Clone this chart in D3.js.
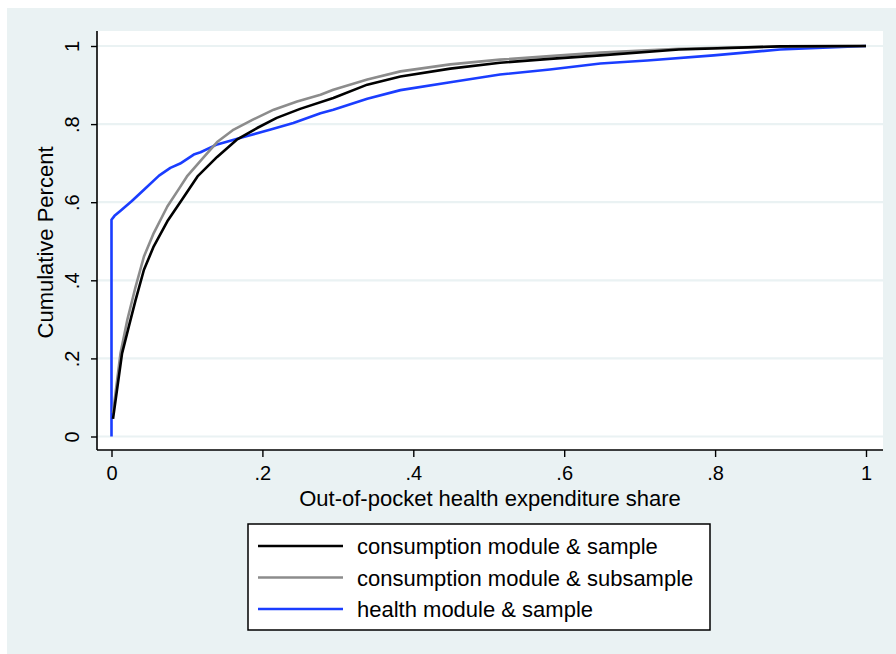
<!DOCTYPE html>
<html>
<head>
<meta charset="utf-8">
<script src="https://cdn.jsdelivr.net/npm/d3@7"></script>
<style>
  html, body { margin: 0; padding: 0; background: #ffffff; }
  svg { display: block; font-family: "Liberation Sans", Arial, Helvetica, sans-serif; }
</style>
</head>
<body>
<svg id="chart" width="896" height="654"></svg>
<script>
// Empirical cumulative distributions of the out-of-pocket health expenditure share
const consumptionSampleX = [0.002, 0.014, 0.023, 0.032, 0.043, 0.056, 0.074, 0.094, 0.114, 0.140, 0.166, 0.193, 0.219, 0.250, 0.294, 0.339, 0.383, 0.449, 0.515, 0.581, 0.648, 0.752, 0.886, 1.0];
const consumptionSampleY = [0.045, 0.213, 0.282, 0.35, 0.427, 0.487, 0.551, 0.608, 0.666, 0.716, 0.760, 0.790, 0.816, 0.839, 0.867, 0.901, 0.922, 0.942, 0.957, 0.967, 0.976, 0.991, 0.999, 1.0];

const consumptionSubsampleX = [0.002, 0.012, 0.021, 0.032, 0.043, 0.056, 0.074, 0.090, 0.100, 0.122, 0.140, 0.162, 0.188, 0.215, 0.246, 0.277, 0.294, 0.339, 0.383, 0.449, 0.515, 0.581, 0.648, 0.752, 0.886, 1.0];
const consumptionSubsampleY = [0.06, 0.214, 0.299, 0.384, 0.461, 0.521, 0.589, 0.636, 0.666, 0.715, 0.754, 0.786, 0.812, 0.837, 0.858, 0.875, 0.888, 0.914, 0.935, 0.953, 0.965, 0.974, 0.983, 0.993, 0.999, 1.0];

const healthSampleX = [0, 0, 0.004, 0.012, 0.027, 0.043, 0.063, 0.078, 0.091, 0.109, 0.118, 0.140, 0.175, 0.211, 0.241, 0.277, 0.294, 0.339, 0.383, 0.449, 0.515, 0.581, 0.648, 0.710, 0.798, 0.886, 1.0];
const healthSampleY = [0, 0.555, 0.565, 0.578, 0.603, 0.632, 0.668, 0.688, 0.699, 0.722, 0.728, 0.748, 0.767, 0.786, 0.803, 0.828, 0.837, 0.865, 0.887, 0.907, 0.927, 0.940, 0.955, 0.963, 0.976, 0.991, 1.0];

const seriesNames = ["consumption module & sample", "consumption module & subsample", "health module & sample"];
const seriesColors = ["#000000", "#8c8c8c", "#1a3dff"];

const xTicks = [0, 0.2, 0.4, 0.6, 0.8, 1];
const yTicks = [0, 0.2, 0.4, 0.6, 0.8, 1];
const xTitle = "Out-of-pocket health expenditure share";
const yTitle = "Cumulative Percent";

const series = [
  { name: seriesNames[0], color: seriesColors[0], points: consumptionSampleX.map((x, i) => [x, consumptionSampleY[i]]) },
  { name: seriesNames[1], color: seriesColors[1], points: consumptionSubsampleX.map((x, i) => [x, consumptionSubsampleY[i]]) },
  { name: seriesNames[2], color: seriesColors[2], points: healthSampleX.map((x, i) => [x, healthSampleY[i]]) }
];

const svg = d3.select("#chart");
const W = 896, H = 654;
const bg = "#eaf2f3";

// graph region background
svg.append("rect").attr("x", 7).attr("y", 8).attr("width", W - 7).attr("height", H - 8).attr("fill", bg);

// plot region
const plot = { left: 97, right: 883, top: 31, bottom: 450 };
svg.append("rect")
  .attr("x", plot.left).attr("y", plot.top)
  .attr("width", plot.right - plot.left).attr("height", plot.bottom - plot.top)
  .attr("fill", "#ffffff");

const x = d3.scaleLinear().domain([0, 1]).range([111.5, 866]);
const y = d3.scaleLinear().domain([0, 1]).range([436.5, 46]);

const fmt = d => d === 0 ? "0" : d === 1 ? "1" : String(d).replace(/^0/, "");

// horizontal grid lines
svg.append("g").selectAll("line").data(yTicks).join("line")
  .attr("x1", plot.left).attr("x2", plot.right)
  .attr("y1", d => y(d)).attr("y2", d => y(d))
  .attr("stroke", bg).attr("stroke-width", 2.2);

// curves
const line = d3.line().x(d => x(d[0])).y(d => y(d[1]));
const order = [2, 1, 0];
svg.append("g").selectAll("path").data(order.map(i => series[i])).join("path")
  .attr("d", d => line(d.points))
  .attr("fill", "none")
  .attr("stroke", d => d.color)
  .attr("stroke-width", 2.6)
  .attr("stroke-linejoin", "round");

// y axis
const yAxis = svg.append("g").attr("transform", `translate(${plot.left},0)`)
  .call(d3.axisLeft(y).tickValues(yTicks).tickFormat(fmt).tickSize(6).tickSizeOuter(0));
yAxis.select(".domain").attr("d", `M0,${plot.top}V${plot.bottom}`).attr("stroke", "#000").attr("stroke-width", 1.6);
yAxis.selectAll(".tick line").attr("stroke", "#000").attr("stroke-width", 1.4);
yAxis.selectAll(".tick text")
  .attr("x", 0).attr("dy", null)
  .attr("transform", "translate(-18,0) rotate(-90)")
  .attr("text-anchor", "middle")
  .attr("font-size", 20).attr("fill", "#000")
  .attr("font-family", "Liberation Sans, Arial, sans-serif");

// x axis
const xAxis = svg.append("g").attr("transform", `translate(0,${plot.bottom})`)
  .call(d3.axisBottom(x).tickValues(xTicks).tickFormat(fmt).tickSize(7).tickSizeOuter(0));
xAxis.select(".domain").attr("d", `M${plot.left},0H${plot.right}`).attr("stroke", "#000").attr("stroke-width", 1.6);
xAxis.selectAll(".tick line").attr("stroke", "#000").attr("stroke-width", 1.4);
xAxis.selectAll(".tick text")
  .attr("y", 30).attr("dy", null)
  .attr("font-size", 20).attr("fill", "#000")
  .attr("font-family", "Liberation Sans, Arial, sans-serif");

// axis titles
svg.append("text")
  .attr("x", (plot.left + plot.right) / 2).attr("y", 506)
  .attr("text-anchor", "middle").attr("font-size", 22).attr("fill", "#000")
  .text(xTitle);
svg.append("text")
  .attr("transform", `translate(53,${(plot.top + plot.bottom) / 2 + 2}) rotate(-90)`)
  .attr("text-anchor", "middle").attr("font-size", 22).attr("fill", "#000")
  .text(yTitle);

// legend
const legend = svg.append("g");
legend.append("rect")
  .attr("x", 248).attr("y", 524).attr("width", 462).attr("height", 106)
  .attr("fill", "#ffffff").attr("stroke", "#000").attr("stroke-width", 1.5);
const rowY = [546, 577.5, 609];
const rows = legend.selectAll("g.row").data(series).join("g").attr("class", "row")
  .attr("transform", (d, i) => `translate(0,${rowY[i]})`);
rows.append("line").attr("x1", 258).attr("x2", 343).attr("y1", 0).attr("y2", 0)
  .attr("stroke", d => d.color).attr("stroke-width", 2.6);
rows.append("text").attr("x", 357).attr("y", 8)
  .attr("font-size", 22).attr("fill", "#000")
  .text(d => d.name);
</script>
</body>
</html>
